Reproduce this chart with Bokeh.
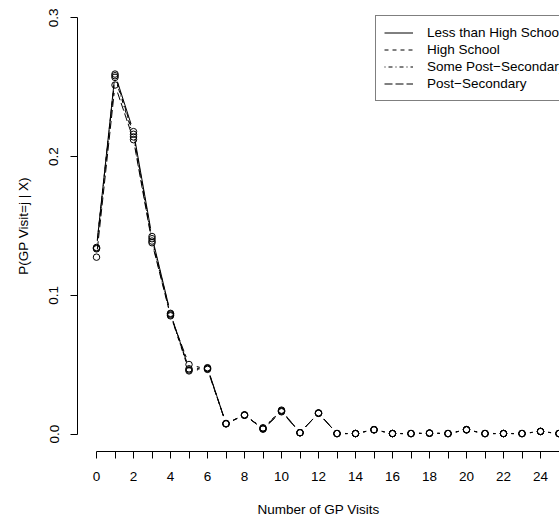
import math
from bokeh.plotting import figure
from bokeh.models import FixedTicker, Legend, LegendItem, Range1d, ColumnDataSource
from bokeh.embed import file_html
from bokeh.resources import INLINE

# ---------------- data ----------------
visits = list(range(27))

less_than_hs = [0.1345, 0.2595, 0.2180, 0.1424, 0.0870, 0.0470, 0.0478, 0.0074, 0.0136,
                0.0037, 0.0164, 0.0009, 0.0150, 0.0003, 0.0003, 0.0030, 0.0003, 0.0003,
                0.0006, 0.0003, 0.0030, 0.0003, 0.0003, 0.0003, 0.0018, 0.0003, 0.0003]
high_school = [0.1340, 0.2583, 0.2161, 0.1408, 0.0865, 0.0462, 0.0474, 0.0075, 0.0137,
               0.0040, 0.0168, 0.0010, 0.0151, 0.0003, 0.0003, 0.0031, 0.0003, 0.0003,
               0.0006, 0.0003, 0.0031, 0.0003, 0.0003, 0.0003, 0.0019, 0.0003, 0.0003]
some_post_sec = [0.1335, 0.2571, 0.2142, 0.1391, 0.0858, 0.0455, 0.0470, 0.0073, 0.0135,
                 0.0045, 0.0172, 0.0009, 0.0149, 0.0004, 0.0004, 0.0030, 0.0004, 0.0004,
                 0.0007, 0.0004, 0.0030, 0.0004, 0.0004, 0.0004, 0.0018, 0.0004, 0.0004]
post_sec = [0.1275, 0.2516, 0.2122, 0.1379, 0.0852, 0.0501, 0.0466, 0.0076, 0.0138,
            0.0035, 0.0160, 0.0010, 0.0152, 0.0003, 0.0003, 0.0032, 0.0003, 0.0003,
            0.0006, 0.0003, 0.0032, 0.0003, 0.0003, 0.0003, 0.0019, 0.0003, 0.0003]

series_names = ["Less than High School", "High School",
                "Some Post\u2212Secondary", "Post\u2212Secondary"]
series_dashes = ["solid", "4 4", "1 3 4 3", "8 3"]

x_ticks = list(range(27))
x_tick_labels = [str(v) if v % 2 == 0 else "" for v in x_ticks]
y_ticks = [0.0, 0.1, 0.2, 0.3]
y_tick_labels = ["0.0", "0.1", "0.2", "0.3"]

x_title = "Number of GP Visits"
y_title = "P(GP Visit=j | X)"

# ---------------- layout ----------------
W, H = 559, 522
LEFT, BOTTOM = 77, 71
FW, FH = W - LEFT, H - BOTTOM
PX_X = 18.5       # pixels per visit
PX_Y = 1387.0     # pixels per unit probability
x_start = -19.0 / PX_X
x_end = x_start + FW / PX_X
y_start = -17.5 / PX_Y
y_end = y_start + FH / PX_Y

FONT = "Liberation Sans"
FS = "13.5px"

p = figure(width=W, height=H, output_backend="svg", toolbar_location=None,
           x_range=Range1d(x_start, x_end), y_range=Range1d(y_start, y_end),
           min_border_left=LEFT, min_border_bottom=BOTTOM,
           min_border_top=0, min_border_right=0)
p.outline_line_color = None
p.grid.visible = False
p.background_fill_color = "white"
p.border_fill_color = "white"

# type="b" style: segments with gaps around the points
GAP = 8.0
renderers = []
for name, ys, dash in zip(series_names,
                          [less_than_hs, high_school, some_post_sec, post_sec],
                          series_dashes):
    x0s, y0s, x1s, y1s = [], [], [], []
    for i in range(len(visits) - 1):
        xa, xb = visits[i], visits[i + 1]
        ya, yb = ys[i], ys[i + 1]
        L = math.hypot((xb - xa) * PX_X, (yb - ya) * PX_Y)
        if L > 2 * GAP:
            f = GAP / L
            x0s.append(xa + f * (xb - xa)); y0s.append(ya + f * (yb - ya))
            x1s.append(xb - f * (xb - xa)); y1s.append(yb - f * (yb - ya))
    src = ColumnDataSource(dict(x0=x0s, y0=y0s, x1=x1s, y1=y1s))
    r = p.segment("x0", "y0", "x1", "y1", source=src, line_color="black",
                  line_width=1, line_dash=dash)
    p.scatter(visits, ys, marker="circle", size=6.5, fill_color=None,
              line_color="black", line_width=1)
    renderers.append((name, r))

# ---------------- axes ----------------
for ax in (p.xaxis[0], p.yaxis[0]):
    ax.axis_line_color = "black"
    ax.axis_line_width = 1
    ax.major_tick_line_color = "black"
    ax.major_tick_in = 0
    ax.major_tick_out = 7
    ax.minor_tick_line_color = None
    ax.major_label_text_font = FONT
    ax.major_label_text_font_size = FS
    ax.major_label_text_color = "black"
    ax.axis_label_text_font = FONT
    ax.axis_label_text_font_size = FS
    ax.axis_label_text_font_style = "normal"
    ax.axis_label_text_color = "black"

p.xaxis.ticker = FixedTicker(ticks=x_ticks)
p.xaxis.major_label_overrides = dict(zip(x_ticks, x_tick_labels))
p.xaxis.bounds = (x_ticks[0], x_ticks[-1])
p.xaxis.axis_label = x_title
p.xaxis.major_label_standoff = 13
p.xaxis.axis_label_standoff = 18

p.yaxis.ticker = FixedTicker(ticks=y_ticks)
p.yaxis.major_label_overrides = dict(zip(y_ticks, y_tick_labels))
p.yaxis.bounds = (y_ticks[0], y_ticks[-1])
p.yaxis.axis_label = y_title
p.yaxis.major_label_orientation = "vertical"
p.yaxis.major_label_standoff = 12
p.yaxis.axis_label_standoff = 16

# ---------------- legend ----------------
legend = Legend(items=[LegendItem(label=n, renderers=[r]) for n, r in renderers],
                location=(298, 350), orientation="vertical",
                border_line_color="black", border_line_width=1,
                background_fill_color="white", background_fill_alpha=1.0,
                padding=8, spacing=0, margin=0,
                glyph_width=29, glyph_height=17, label_height=17,
                label_standoff=14,
                label_text_font=FONT, label_text_font_size=FS,
                label_text_color="black")
p.add_layout(legend, "center")

open("out.html", "w").write(file_html(p, INLINE))
